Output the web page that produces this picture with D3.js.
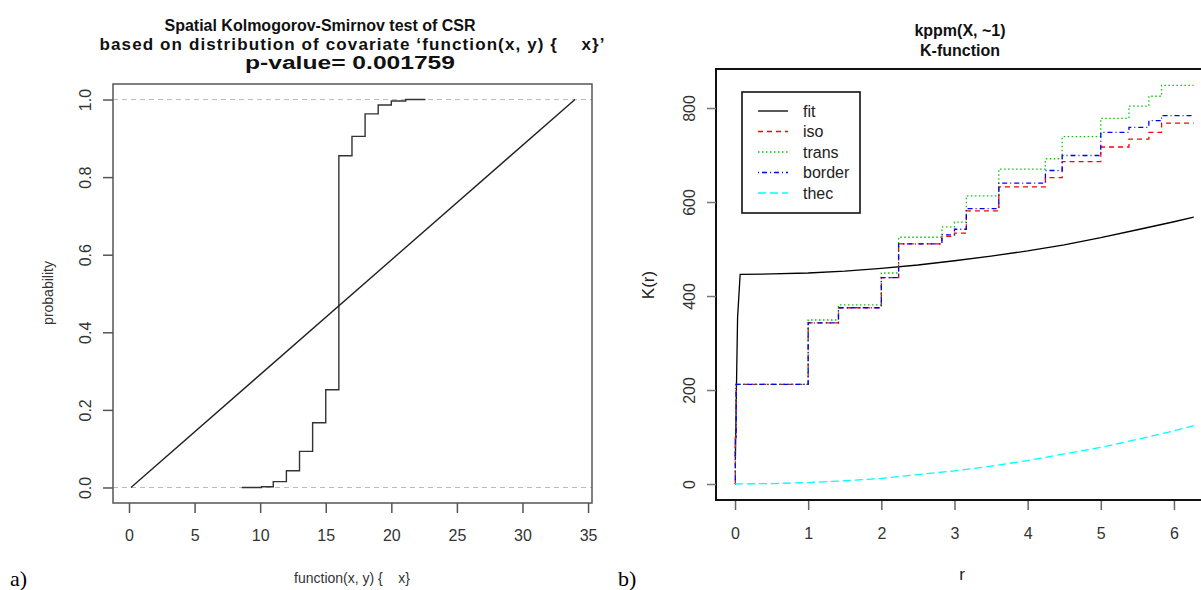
<!DOCTYPE html>
<html>
<head>
<meta charset="utf-8">
<script src="https://cdn.jsdelivr.net/npm/d3@7"></script>
<style>
  body { margin: 0; background: #fff; }
  svg { display: block; font-family: "Liberation Sans", Arial, sans-serif; }
  .tick text { fill: #333; }
</style>
</head>
<body>
<svg id="chart" width="1201" height="590"></svg>
<script>
// ---- panel a) : spatial KS test ----
var ksTitle = ["Spatial Kolmogorov-Smirnov test of CSR",
  "based on distribution of covariate \u2018function(x, y) {    x}\u2019",
  "p-value= 0.001759"];
var ksTicksX = [0, 5, 10, 15, 20, 25, 30, 35];
var ksTicksY = [0, 0.2, 0.4, 0.6, 0.8, 1.0];
// empirical cdf of covariate at the data points
var ecdfX = [8.6, 10.1, 11, 12, 13, 14, 15, 16, 17, 18, 19, 20, 21.1, 22.6];
var ecdfY = [0, 0.002, 0.015, 0.043, 0.093, 0.167, 0.252, 0.855, 0.905, 0.963, 0.986, 0.996, 1.0, 1.0];
// theoretical (CSR) cdf
var cdfX = [0.15, 34];
var cdfY = [0, 1];

// ---- panel b) : K-function ----
var kTitle = ["kppm(X, ~1)", "K-function"];
var kTicksX = [0, 1, 2, 3, 4, 5, 6];
var kTicksY = [0, 200, 400, 600, 800];
var stepR = [0, 0.004, 0.015, 1.0, 1.414, 2.0, 2.236, 2.828, 3.0, 3.162, 3.606, 4.243, 4.472, 5.0, 5.385, 5.657, 5.831, 6.27];
var isoK = [0, 99, 212, 343, 375, 439, 511, 527, 534, 581, 632, 652, 686, 717, 734, 748, 768, 768];
var transK = [0, 99, 212, 349, 381, 449, 525, 547, 557, 613, 670, 692, 739, 778, 804, 825, 848, 848];
var borderK = [0, 99, 212, 343, 375, 439, 511, 530, 542, 586, 640, 667, 699, 748, 759, 773, 784, 784];
var fitR = [0.005, 0.02, 0.035, 0.07, 0.5, 1, 1.5, 2, 2.5, 3, 3.5, 4, 4.5, 5, 5.5, 6, 6.27];
var fitK = [52, 210, 354, 446, 447, 449, 453, 459, 466, 475, 485, 496, 509, 524, 541, 558, 568];
var thecR = [0, 0.5, 1, 1.5, 2, 2.5, 3, 3.5, 4, 4.5, 5, 5.5, 6, 6.27];
var thecK = [0, 1, 3, 7, 12, 20, 28, 38, 50, 64, 78, 95, 113, 124];
var legendNames = ["fit", "iso", "trans", "border", "thec"];
var legendColors = ["#000000", "#ff0000", "#00cd00", "#0000ff", "#00ffff"];
var legendDash = ["none", "5,4", "1.5,2.5", "1,3,5,3", "8,4"];

var svg = d3.select("#chart");

// ================= left panel =================
var xL = d3.scaleLinear().domain([-1.22, 35.3]).range([113, 592]);
var yL = d3.scaleLinear().domain([-0.04, 1.04]).range([503, 84]);

var gl = svg.append("g");

// dashed reference lines at 0 and 1
gl.selectAll("line.ref")
  .data([0, 1])
  .enter()
  .append("line")
  .attr("x1", 113).attr("x2", 592)
  .attr("y1", (d) => yL(d)).attr("y2", (d) => yL(d))
  .attr("stroke", "#bbb")
  .attr("stroke-width", 1.2)
  .attr("stroke-dasharray", "5,4");

var ecdfLine = d3.line()
  .x((d, i) => xL(ecdfX[i]))
  .y((d) => yL(d))
  .curve(d3.curveStepAfter);
gl.append("path")
  .attr("d", ecdfLine(ecdfY))
  .attr("fill", "none")
  .attr("stroke", "#333")
  .attr("stroke-width", 1.4);

var cdfLine = d3.line()
  .x((d, i) => xL(cdfX[i]))
  .y((d) => yL(d));
gl.append("path")
  .attr("d", cdfLine(cdfY))
  .attr("fill", "none")
  .attr("stroke", "#222")
  .attr("stroke-width", 1.4);

gl.append("rect")
  .attr("x", 113).attr("y", 84)
  .attr("width", 592 - 113).attr("height", 503 - 84)
  .attr("fill", "none")
  .attr("stroke", "#555")
  .attr("stroke-width", 1.5);

var axL = gl.append("g")
  .attr("transform", "translate(0,503)")
  .call(d3.axisBottom(xL).tickValues(ksTicksX).tickSize(10).tickFormat(d3.format("d")));
axL.select(".domain").remove();
axL.selectAll(".tick line").attr("stroke", "#555").attr("stroke-width", 1.5);
axL.selectAll(".tick text").attr("y", 38).attr("dy", 0)
  .style("font-size", "16px");

var ayL = gl.append("g")
  .attr("transform", "translate(113,0)")
  .call(d3.axisLeft(yL).tickValues(ksTicksY).tickSize(10).tickFormat(d3.format(".1f")));
ayL.select(".domain").remove();
ayL.selectAll(".tick line").attr("stroke", "#555").attr("stroke-width", 1.5);
ayL.selectAll(".tick text")
  .attr("transform", "rotate(-90)")
  .attr("x", 0).attr("y", -22).attr("dy", 0)
  .attr("text-anchor", "middle")
  .style("font-size", "16px");

// title lines: centre, width and size as measured on the original
var titleCx = [320, 352, 350];
var titleW = [311, 505, 210];
var titleSize = [16, 17, 18];
gl.selectAll("text.title")
  .data(ksTitle)
  .enter()
  .append("text")
  .attr("x", (d, i) => titleCx[i])
  .attr("y", (d, i) => 31 + i * 19)
  .attr("text-anchor", "middle")
  .attr("textLength", (d, i) => titleW[i])
  .attr("lengthAdjust", (d, i) => (i == 2 ? "spacingAndGlyphs" : "spacing"))
  .style("font-size", (d, i) => titleSize[i] + "px")
  .style("font-weight", "bold")
  .style("white-space", "pre")
  .attr("fill", "#111")
  .text((d) => d);

gl.append("text")
  .attr("transform", "translate(48,293) rotate(-90)")
  .attr("text-anchor", "middle")
  .attr("dy", "0.35em")
  .style("font-size", "14px")
  .attr("fill", "#333")
  .text("probability");

gl.append("text")
  .attr("x", 352).attr("y", 583)
  .attr("text-anchor", "middle")
  .style("font-size", "14px")
  .style("white-space", "pre")
  .attr("fill", "#333")
  .text("function(x, y) {    x}");

// ================= right panel =================
var xR = d3.scaleLinear().domain([-0.26, 6.52]).range([716, 1212]);
var yR = d3.scaleLinear().domain([-34, 883]).range([500, 69]);

var gr = svg.append("g");
gr.append("clipPath").attr("id", "clipR")
  .append("rect")
  .attr("x", 716).attr("y", 69)
  .attr("width", 1212 - 716).attr("height", 500 - 69);

var plotR = gr.append("g").attr("clip-path", "url(#clipR)");

function stepPath(vals) {
  return d3.line()
    .x((d, i) => xR(stepR[i]))
    .y((d) => yR(d))
    .curve(d3.curveStepAfter)(vals);
}
var smooth = d3.line()
  .x((d) => xR(d[0]))
  .y((d) => yR(d[1]));

var curves = [
  { d: smooth(fitR.map((r, i) => [r, fitK[i]])), k: 0 },
  { d: stepPath(isoK), k: 1 },
  { d: stepPath(transK), k: 2 },
  { d: stepPath(borderK), k: 3 },
  { d: smooth(thecR.map((r, i) => [r, thecK[i]])), k: 4 }
];

plotR.selectAll("path.curve")
  .data(curves)
  .enter()
  .append("path")
  .attr("d", (c) => c.d)
  .attr("fill", "none")
  .attr("stroke", (c) => legendColors[c.k])
  .attr("stroke-width", 1.3)
  .attr("stroke-dasharray", (c) => legendDash[c.k]);

gr.append("rect")
  .attr("x", 716).attr("y", 69)
  .attr("width", 1212 - 716).attr("height", 500 - 69)
  .attr("fill", "none")
  .attr("stroke", "#111")
  .attr("stroke-width", 2);

var axR = gr.append("g")
  .attr("transform", "translate(0,501)")
  .call(d3.axisBottom(xR).tickValues(kTicksX).tickSize(9).tickFormat(d3.format("d")));
axR.select(".domain").remove();
axR.selectAll(".tick line").attr("stroke", "#666").attr("stroke-width", 1.5);
axR.selectAll(".tick text").attr("y", 38).attr("dy", 0)
  .style("font-size", "16px");

var ayR = gr.append("g")
  .attr("transform", "translate(716,0)")
  .call(d3.axisLeft(yR).tickValues(kTicksY).tickSize(9).tickFormat(d3.format("d")));
ayR.select(".domain").remove();
ayR.selectAll(".tick line").attr("stroke", "#777").attr("stroke-width", 1.5);
ayR.selectAll(".tick text")
  .attr("transform", "rotate(-90)")
  .attr("x", 0).attr("y", -21).attr("dy", 0)
  .attr("text-anchor", "middle")
  .style("font-size", "16px");

gr.selectAll("text.title")
  .data(kTitle)
  .enter()
  .append("text")
  .attr("x", 960)
  .attr("y", (d, i) => 36 + i * 20)
  .attr("text-anchor", "middle")
  .style("font-size", "16px")
  .style("font-weight", "bold")
  .attr("fill", "#111")
  .text((d) => d);

gr.append("text")
  .attr("transform", "translate(648,285) rotate(-90)")
  .attr("text-anchor", "middle")
  .attr("dy", "0.35em")
  .style("font-size", "17px")
  .attr("fill", "#222")
  .text("K(r)");

gr.append("text")
  .attr("x", 962).attr("y", 580)
  .attr("text-anchor", "middle")
  .style("font-size", "17px")
  .attr("fill", "#222")
  .text("r");

// legend
var leg = gr.append("g");
leg.append("rect")
  .attr("x", 742).attr("y", 92)
  .attr("width", 118).attr("height", 121)
  .attr("fill", "#fff")
  .attr("stroke", "#111")
  .attr("stroke-width", 1.6);
var items = leg.selectAll("g.item")
  .data(legendNames)
  .enter()
  .append("g")
  .attr("transform", (d, i) => "translate(0," + (111 + i * 20.5) + ")");
items.append("line")
  .attr("x1", 758).attr("x2", 788)
  .attr("stroke", (d, i) => legendColors[i])
  .attr("stroke-width", 1.3)
  .attr("stroke-dasharray", (d, i) => legendDash[i]);
items.append("text")
  .attr("x", 803)
  .attr("dy", "0.35em")
  .style("font-size", "16px")
  .attr("fill", "#222")
  .text((d) => d);

// panel letters
svg.selectAll("text.letter")
  .data(["a)", "b)"])
  .enter()
  .append("text")
  .attr("x", (d, i) => (i == 0 ? 10 : 618))
  .attr("y", 586)
  .style("font-family", "'Liberation Serif', 'Times New Roman', serif")
  .style("font-size", "22px")
  .text((d) => d);
</script>
</body>
</html>
